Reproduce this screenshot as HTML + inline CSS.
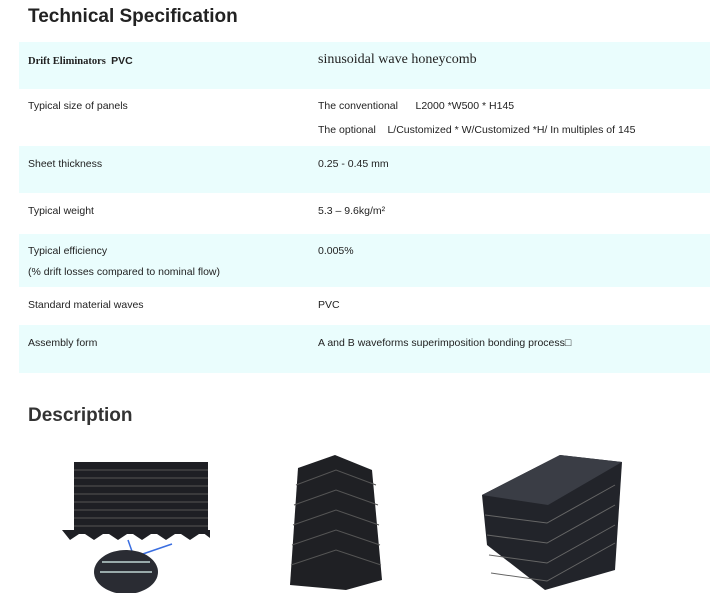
<!DOCTYPE html>
<html><head><meta charset="utf-8"><style>
body{margin:0;width:727px;height:593px;background:#fff;font-family:"Liberation Sans",sans-serif;position:relative;overflow:hidden;color:#222}
.t{position:absolute;left:28px;font-weight:bold;font-size:19px;color:#222}
.row{position:absolute;left:19px;width:691px}
.c{background:#eafdfd}
.s{position:absolute;font-size:10.5px;color:#222;white-space:nowrap}
</style></head><body>
<div class="t" style="top:6px">Technical Specification</div>
<div class="row c" style="top:42px;height:47px"></div>
<div class="row c" style="top:146px;height:47px"></div>
<div class="row c" style="top:234px;height:53px"></div>
<div class="row c" style="top:325px;height:48px"></div>

<div class="s" style="left:28px;top:55px;font-family:'Liberation Serif',serif;font-weight:bold">Drift Eliminators&nbsp; <span style="font-family:'Liberation Sans'">PVC</span></div>
<div class="s" style="left:318px;top:52px;font-family:'Liberation Serif',serif;font-size:14px">sinusoidal wave honeycomb</div>

<div class="s" style="left:28px;top:100px">Typical size of panels</div>
<div class="s" style="left:318px;top:100px">The conventional &nbsp;&nbsp;&nbsp;&nbsp; L2000 *W500 * H145</div>
<div class="s" style="left:318px;top:124px">The optional &nbsp;&nbsp; L/Customized * W/Customized *H/ In multiples of 145</div>

<div class="s" style="left:28px;top:158px">Sheet thickness</div>
<div class="s" style="left:318px;top:158px">0.25 - 0.45 mm</div>

<div class="s" style="left:28px;top:205px">Typical weight</div>
<div class="s" style="left:318px;top:205px">5.3 – 9.6kg/m²</div>

<div class="s" style="left:28px;top:245px">Typical efficiency</div>
<div class="s" style="left:28px;top:266px">(% drift losses compared to nominal flow)</div>
<div class="s" style="left:318px;top:245px">0.005%</div>

<div class="s" style="left:28px;top:299px">Standard material waves</div>
<div class="s" style="left:318px;top:299px">PVC</div>

<div class="s" style="left:28px;top:337px">Assembly form</div>
<div class="s" style="left:318px;top:337px">A and B waveforms superimposition bonding process□</div>

<div class="t" style="top:405px;color:#333">Description</div>

<svg style="position:absolute;left:0;top:0" width="727" height="593">
 <g fill="#1e1f24">
  <rect x="74" y="462" width="134" height="72" />
  <path d="M70,540 l12,-8 l12,8 l12,-8 l12,8 l12,-8 l12,8 l12,-8 l12,8 l12,-8 l12,8 l12,-8 l8,6 l0,-8 h-148z"/>
 </g>
 <g stroke="#555" stroke-width="1">
  <line x1="74" y1="470" x2="208" y2="470"/><line x1="74" y1="478" x2="208" y2="478"/><line x1="74" y1="486" x2="208" y2="486"/><line x1="74" y1="494" x2="208" y2="494"/><line x1="74" y1="502" x2="208" y2="502"/><line x1="74" y1="510" x2="208" y2="510"/><line x1="74" y1="518" x2="208" y2="518"/><line x1="74" y1="526" x2="208" y2="526"/>
 </g>
 <path d="M128,540 L134,557 M134,557 L172,544" stroke="#3a6ee0" stroke-width="1.5" fill="none"/>
 <ellipse cx="126" cy="572" rx="32" ry="22" fill="#2a2c33"/>
 <g stroke="#9aa" stroke-width="2"><line x1="102" y1="562" x2="150" y2="562"/><line x1="100" y1="572" x2="152" y2="572"/></g>
 <path d="M298,468 L335,455 L372,470 L382,580 L346,590 L290,585 Z" fill="#1f2024"/>
 <g stroke="#555"><path d="M296,485 l40,-15 l40,15 M294,505 l42,-15 l42,15 M293,525 l43,-15 l43,15 M292,545 l44,-15 l44,15 M291,565 l45,-15 l45,15" fill="none"/></g>
 <path d="M482,495 L560,455 L622,462 L615,570 L545,590 L487,545 Z" fill="#22242a"/>
 <path d="M482,495 L560,455 L622,462 L548,505 Z" fill="#3a3d45"/>
 <g stroke="#666" fill="none"><path d="M485,515 l62,8 l68,-38 M487,535 l60,8 l68,-38 M489,555 l58,8 l68,-38 M491,573 l56,8 l68,-38"/></g>
</svg>
</body></html>
